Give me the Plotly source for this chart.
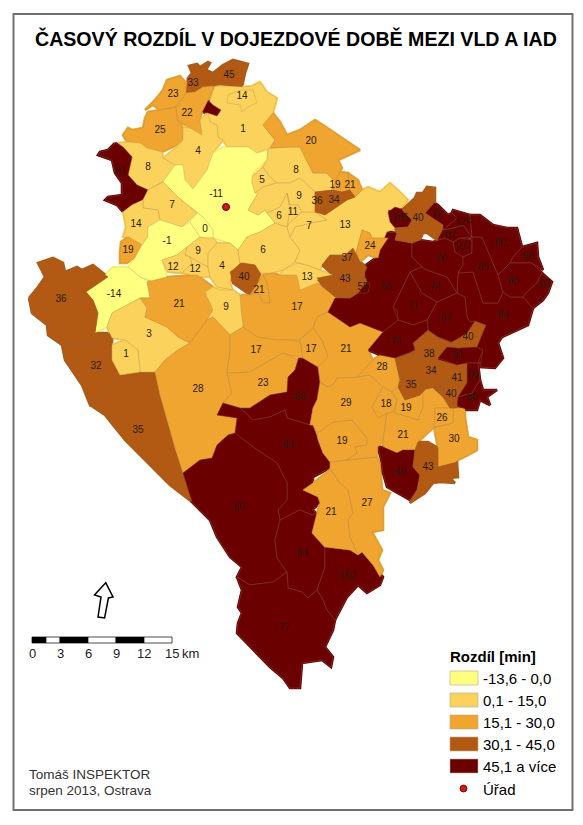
import plotly.graph_objects as go

# map sheet units, y grows downwards
title_text = "ČASOVÝ ROZDÍL V DOJEZDOVÉ DOBĚ MEZI VLD A IAD"
class_limits = [0, 15, 30, 45, 9999]
class_colors = ["#FFFF80", "#FBD35C", "#EFA530", "#B25A14", "#6B0000"]
class_edges = ["#C8BE70", "#C8A050", "#BE8C46", "#96602C", "#85453C"]
class_labels = ["-13,6 - 0,0", "0,1 - 15,0", "15,1 - 30,0", "30,1 - 45,0", "45,1 a více"]
scale_ticks = [0, 3, 6, 9, 12, 15]

region_values = [
    33, 45, 1, 14, 60, 22, 23, 25, 4, 8, 51, -11, 7, 14, 19, -1, 0, 9, 12, 12, 4, 6, 40, 21, 17, 13,
    13, 7, 5, 8, 9, 6, 11, 20, 19, 21, 36, 34, -14, 36, 32, 35, 3, 1, 21, 9, 28, 17, 23, 89, 64, 80,
    64, 150, 77, 21, 27, 19, 29, 18, 19, 21, 30, 26, 49, 43, 21, 17, 28, 38, 40, 34, 35, 41, 40, 91,
    69, 58, 84, 57, 71, 74, 56, 55, 74, 70, 107, 89, 82, 70, 124, 80, 96, 85, 62, 105, 40, 24, 37, 43,
]
label_x = [
    193, 229, 243, 242, None, 187, 173, 160, 198, 148, 120, 216, 172, 136, 128, 167, 205, 198, 173, 195, 222, 263, 244, 259, 297, 307,
    345, 309, 262, 296, 299, 279, 293, 311, 335, 350, 317, 334, 114, 61, 96, 138, 149, 126, 179, 226, 198, 256, 263, 300, 288, 239,
    302, 347, 284, 331, 367, 342, 346, 386, 406, 403, 454, 442, 400, 428, 346, 311, 382, 429, 468, 431, 411, 457, 451, 458,
    473, 472, 503, 446, 413, 396, 386, 363, 435, 441, 462, 483, 450, 437, 463, 500, 528, 513, 545, 400, 418, 370, 347, 345,
]
label_y = [
    83, 75, 129, 96, None, 113, 94, 130, 151, 167, 171, 194, 205, 224, 250, 241, 229, 251, 267, 269, 266, 250, 277, 290, 307, 277,
    225, 226, 180, 170, 196, 216, 212, 141, 185, 185, 201, 200, 294, 299, 366, 430, 334, 354, 304, 307, 389, 350, 383, 397, 445, 507,
    553, 576, 628, 512, 503, 441, 403, 404, 408, 435, 439, 418, 472, 467, 349, 349, 367, 354, 337, 371, 385, 378, 394, 355,
    375, 397, 315, 318, 306, 342, 287, 287, 287, 259, 247, 267, 235, 215, 222, 243, 256, 281, 284, 218, 218, 246, 258, 279,
]
region_rings = [
    [(186,93),(188,78),(192,73),(189,66),(197,64),(200,67),(208,62),(210,63),(206,70),(213,73),(213,86),(203,87),(195,92)],
    [(213,73),(223,65),(233,60),(248,64),(245,73),(242,87),(220,85),(213,86)],
    [(213,90),(217,86),(242,87),(252,86),(260,82),(267,92),(277,98),(273,113),(263,125),(275,140),(270,148),(257,153),(248,147),(227,147),(223,140),(218,137),(217,125),(210,122),(206,113),(208,107)],
    [(227,103),(228,95),(240,90),(253,90),(257,103),(248,107),(242,112),(240,105)],
    [(202,112),(208,100),(213,105),(221,110),(217,116),(208,113)],
    [(176,107),(186,93),(195,92),(203,87),(213,86),(213,90),(208,100),(202,112),(200,120),(202,135),(190,128),(177,120)],
    [(145,110),(155,100),(163,90),(167,80),(180,76),(186,83),(186,93),(176,107),(160,110),(153,105)],
    [(145,118),(148,112),(160,110),(176,107),(177,120),(183,127),(183,140),(177,145),(162,152),(147,148),(140,143),(127,142),(123,135),(128,128),(132,130),(143,128)],
    [(163,158),(177,147),(183,140),(183,127),(190,128),(202,135),(200,120),(208,113),(210,122),(217,125),(218,137),(223,140),(213,153),(207,170),(193,189),(185,180),(183,165),(175,165)],
    [(118,143),(127,142),(140,143),(147,148),(162,152),(163,158),(175,165),(163,182),(160,183),(148,190),(137,185),(128,175),(132,157),(123,147)],
    [(115,143),(123,147),(132,157),(128,175),(137,185),(148,190),(143,200),(132,205),(123,212),(117,205),(105,200),(108,197),(122,195),(122,183),(115,173),(112,160),(98,155),(100,152),(108,150)],
    [(163,182),(175,165),(183,165),(185,180),(193,189),(207,170),(213,153),(223,147),(248,147),(257,153),(268,150),(267,160),(253,173),(252,183),(258,193),(250,207),(248,210),(258,215),(265,210),(275,223),(260,232),(247,237),(238,250),(230,243),(213,238),(213,230),(203,217),(197,212),(178,197)],
    [(148,190),(160,183),(163,182),(178,197),(197,213),(182,227),(160,220),(158,210),(143,208),(143,200)],
    [(123,212),(132,205),(143,200),(143,208),(158,210),(160,220),(148,227),(148,237),(142,245),(128,237),(123,237),(126,227)],
    [(120,253),(121,242),(128,237),(142,245),(135,258),(127,263),(120,263)],
    [(148,227),(160,220),(182,227),(190,222),(200,237),(187,247),(177,255),(162,260),(168,280),(157,283),(140,277),(128,267),(135,258),(142,245),(148,237)],
    [(190,222),(197,213),(203,217),(213,230),(213,238),(205,238),(200,237)],
    [(187,247),(200,237),(205,238),(213,238),(217,243),(208,253),(208,267),(200,263),(190,257),(185,255)],
    [(162,260),(177,255),(187,247),(185,255),(190,257),(192,263),(182,273),(168,272)],
    [(190,257),(200,263),(208,267),(210,277),(200,277),(182,273),(192,263)],
    [(208,253),(217,243),(230,243),(238,250),(240,263),(232,272),(230,283),(233,290),(217,287),(210,277),(208,267)],
    [(238,250),(247,237),(260,232),(275,223),(287,227),(290,237),(300,250),(295,262),(283,270),(272,273),(260,273),(255,265),(243,263),(240,263)],
    [(230,272),(242,263),(255,265),(260,273),(258,283),(250,295),(243,290),(233,283)],
    [(258,283),(263,275),(268,285),(270,303),(263,303),(258,293),(250,295)],
    [(268,285),(263,275),(272,273),(280,275),(297,275),(300,290),(317,283),(337,298),(328,312),(317,317),(313,328),(300,340),(290,340),(277,340),(257,337),(243,327),(241,310),(240,295),(250,295),(258,293),(263,303),(270,303)],
    [(283,270),(297,263),(307,265),(320,270),(333,275),(317,280),(317,283),(300,290),(297,275),(280,275)],
    [(315,212),(325,215),(347,200),(355,197),(362,190),(368,187),(380,192),(390,183),(400,192),(408,200),(400,210),(388,210),(390,218),(397,228),(387,232),(388,238),(372,238),(370,233),(362,230),(356,253),(345,255),(330,255),(322,265),(320,270),(307,265),(297,263),(295,262),(300,250),(290,237),(295,227),(315,222),(327,220)],
    [(290,222),(302,212),(315,212),(327,220),(315,222),(295,227),(290,237),(287,227)],
    [(252,177),(263,167),(270,177),(277,183),(263,187),(255,193),(252,183)],
    [(268,150),(270,148),(290,147),(300,147),(313,173),(327,173),(335,182),(332,190),(315,192),(300,178),(290,183),(277,183),(270,177),(263,167),(267,160)],
    [(255,193),(263,187),(277,183),(290,183),(300,178),(315,192),(315,212),(302,212),(298,205),(290,205),(287,193),(280,207),(267,213),(265,210),(258,215),(248,210),(250,207),(258,193)],
    [(267,213),(280,207),(287,193),(290,210),(287,227),(275,223)],
    [(287,193),(290,205),(298,205),(302,212),(290,222),(287,227),(290,210)],
    [(263,125),(273,113),(280,122),(287,135),(300,130),(315,120),(323,125),(345,140),(360,150),(338,160),(342,168),(340,172),(335,182),(327,173),(313,173),(300,147),(290,147),(270,148),(275,140)],
    [(335,182),(340,172),(348,173),(350,190),(342,192),(332,190)],
    [(348,173),(358,180),(362,190),(355,197),(347,193),(350,190)],
    [(315,192),(332,190),(335,198),(320,213),(315,212)],
    [(332,190),(342,192),(350,190),(355,197),(347,200),(325,215),(320,213),(335,198)],
    [(86,292),(113,267),(128,267),(140,277),(150,282),(150,298),(140,298),(127,305),(112,313),(107,327),(95,333),(98,313),(93,300)],
    [(29,298),(38,287),(45,277),(38,263),(53,258),(63,263),(65,272),(77,267),(82,270),(93,265),(108,277),(86,292),(93,300),(98,313),(95,333),(117,333),(112,340),(100,340),(85,345),(63,345),(48,335),(47,325),(32,313)],
    [(48,335),(63,345),(85,345),(100,340),(112,340),(112,360),(120,375),(115,385),(90,405),(82,385),(65,360),(62,345)],
    [(90,405),(115,385),(120,375),(140,372),(155,372),(160,395),(170,430),(175,448),(183,473),(192,502),(170,485),(125,440),(105,415)],
    [(107,327),(112,313),(127,305),(140,298),(150,298),(147,310),(145,317),(167,327),(178,337),(190,343),(178,350),(165,360),(155,372),(140,372),(138,350),(125,340),(112,338)],
    [(112,345),(125,340),(138,350),(140,372),(120,375),(112,360)],
    [(147,282),(167,277),(197,275),(213,287),(205,292),(213,310),(207,320),(202,327),(190,343),(178,337),(167,327),(145,317),(147,308),(140,298),(150,298)],
    [(205,292),(213,287),(220,290),(233,290),(240,295),(241,310),(243,327),(230,335),(213,317),(207,320),(213,310)],
    [(190,343),(202,327),(207,320),(213,317),(230,335),(230,350),(227,373),(232,393),(223,403),(217,415),(237,418),(235,433),(228,435),(217,445),(212,458),(200,460),(183,473),(175,448),(170,430),(160,395),(155,372),(165,360),(178,350)],
    [(230,335),(243,327),(257,337),(277,340),(290,340),(300,342),(303,358),(283,353),(267,362),(250,372),(233,373),(227,373),(230,350)],
    [(227,373),(233,373),(250,372),(267,362),(283,353),(298,360),(295,370),(288,377),(287,392),(270,395),(250,408),(240,408),(223,403),(232,393)],
    [(298,360),(303,358),(322,368),(320,382),(328,387),(317,400),(313,408),(310,425),(287,418),(285,410),(270,417),(253,420),(240,408),(250,408),(270,395),(287,392),(288,377),(295,370)],
    [(217,415),(223,403),(240,408),(253,420),(270,417),(285,410),(287,418),(310,425),(313,425),(318,440),(323,453),(330,462),(330,468),(313,477),(313,483),(303,490),(318,497),(320,503),(312,510),(317,513),(312,515),(300,510),(290,515),(280,520),(278,510),(287,500),(287,483),(277,463),(253,447),(235,433),(237,418)],
    [(183,473),(200,460),(212,458),(217,445),(228,435),(235,433),(253,447),(277,463),(287,483),(287,500),(278,510),(280,520),(275,540),(277,558),(287,572),(273,582),(250,585),(237,577),(242,567),(230,557),(217,537),(210,520),(200,510),(192,502)],
    [(280,520),(290,515),(300,510),(312,515),(317,513),(312,533),(325,548),(325,567),(317,590),(308,598),(302,592),(288,588),(287,572),(277,558),(275,540)],
    [(325,547),(350,550),(358,555),(362,552),(373,565),(383,577),(380,585),(367,593),(358,585),(347,597),(335,620),(327,610),(322,598),(317,590),(325,567)],
    [(237,577),(250,585),(273,582),(287,572),(288,588),(302,592),(308,598),(317,590),(322,598),(327,610),(335,620),(333,630),(325,647),(333,657),(331,667),(322,660),(302,663),(300,688),(290,688),(283,678),(270,667),(253,650),(237,633),(238,623),(242,613),(238,607),(242,590)],
    [(313,483),(330,470),(333,473),(340,483),(348,490),(353,513),(348,520),(350,537),(358,555),(350,550),(325,547),(312,533),(317,513),(320,503),(318,497),(303,490)],
    [(330,462),(347,460),(377,457),(380,463),(382,490),(390,493),(383,507),(383,530),(372,532),(382,550),(378,560),(383,570),(380,577),(373,565),(362,552),(358,555),(350,537),(348,520),(353,513),(348,490),(340,483),(333,473),(330,468)],
    [(317,433),(333,422),(352,420),(367,438),(367,445),(355,447),(357,453),(347,460),(330,462),(323,453),(318,440)],
    [(320,382),(328,387),(333,385),(337,378),(357,377),(370,375),(383,387),(372,407),(378,418),(387,413),(383,440),(378,447),(377,457),(347,460),(357,453),(355,447),(367,445),(367,438),(352,420),(333,422),(317,433),(313,425),(310,425),(313,408),(317,400)],
    [(372,407),(383,387),(392,392),(397,400),(393,412),(387,413),(378,418)],
    [(392,392),(398,387),(405,400),(420,395),(423,390),(423,407),(418,420),(395,413),(397,400)],
    [(387,413),(393,412),(395,413),(418,420),(423,407),(423,390),(433,388),(443,397),(450,408),(435,408),(434,427),(418,442),(415,450),(403,450),(397,453),(383,447),(383,440)],
    [(453,408),(465,408),(465,417),(468,437),(477,440),(477,450),(468,455),(458,460),(455,463),(438,467),(438,448),(434,427),(437,427),(453,423)],
    [(435,408),(453,408),(453,423),(437,427),(434,427)],
    [(378,447),(383,447),(397,453),(403,450),(415,450),(413,467),(420,475),(417,490),(410,500),(397,493),(387,487),(383,473),(382,463)],
    [(415,450),(418,442),(428,442),(438,448),(438,467),(457,462),(458,477),(450,478),(455,483),(440,482),(433,483),(425,493),(410,503),(417,490),(420,475),(413,467)],
    [(317,317),(328,312),(350,327),(360,323),(383,332),(368,350),(373,360),(357,377),(337,378),(333,385),(328,387),(320,382),(318,367),(328,357),(322,340),(313,328)],
    [(300,340),(313,328),(322,340),(328,357),(318,367),(303,358)],
    [(373,360),(380,355),(395,358),(400,380),(398,387),(392,392),(383,387),(370,375),(357,377)],
    [(413,343),(428,330),(438,337),(452,343),(447,347),(438,358),(438,360),(420,357),(410,353),(415,350)],
    [(452,342),(467,333),(475,321),(486,325),(477,347),(458,348),(447,347)],
    [(395,358),(410,353),(420,357),(438,360),(457,365),(452,380),(437,387),(427,388),(417,380),(400,380)],
    [(400,380),(398,387),(405,400),(420,395),(427,388),(417,380)],
    [(457,365),(467,363),(467,383),(458,397),(447,393),(437,387),(452,380)],
    [(437,387),(447,393),(458,397),(457,408),(450,408),(443,397),(433,388)],
    [(438,358),(447,347),(458,348),(477,347),(483,350),(478,363),(467,363),(457,365)],
    [(467,363),(478,363),(480,380),(472,393),(458,397),(467,383)],
    [(458,397),(472,393),(480,380),(483,390),(497,390),(487,397),(490,405),(480,400),(477,410),(467,410),(457,405)],
    [(458,273),(473,272),(483,303),(498,303),(503,292),(510,297),(523,297),(533,308),(528,325),(502,337),(498,343),(503,358),(495,368),(480,367),(483,350),(477,347),(486,325),(475,321),(470,322),(467,317),(465,297),(457,293)],
    [(437,302),(457,293),(465,297),(467,317),(470,322),(475,321),(467,333),(452,342),(438,337),(428,330),(427,320)],
    [(393,307),(410,272),(422,293),(437,302),(427,320),(413,325),(398,320),(397,310)],
    [(368,350),(383,332),(398,320),(413,325),(427,320),(428,330),(413,343),(415,350),(395,358),(380,355)],
    [(328,312),(335,298),(350,298),(358,293),(367,282),(363,267),(377,257),(387,232),(397,233),(395,240),(412,243),(412,257),(422,267),(410,272),(393,307),(398,320),(383,332),(360,323),(350,327)],
    [(355,287),(360,282),(370,283),(368,293),(358,293)],
    [(422,267),(427,270),(447,277),(457,293),(437,302),(422,293),(410,272)],
    [(412,243),(420,240),(433,242),(445,238),(453,242),(455,252),(463,257),(463,265),(458,273),(457,293),(447,277),(427,270),(422,267),(412,257)],
    [(453,242),(460,238),(472,240),(472,253),(463,257),(455,252)],
    [(472,237),(482,237),(498,275),(503,292),(498,303),(483,303),(473,272),(458,273),(463,265),(463,257),(472,253)],
    [(437,240),(443,230),(453,228),(463,225),(472,237),(460,238),(453,242),(445,238)],
    [(425,213),(433,202),(438,205),(448,215),(452,213),(457,218),(443,230),(443,225),(435,220)],
    [(452,213),(453,210),(463,213),(470,215),(472,237),(463,225),(453,228),(443,230),(457,218)],
    [(470,215),(480,215),(493,225),(507,228),(517,228),(522,247),(513,257),(510,263),(498,275),(482,237),(472,237)],
    [(522,247),(537,243),(538,257),(543,270),(532,263),(510,263),(513,257)],
    [(498,275),(510,263),(532,263),(542,273),(537,283),(527,292),(523,297),(510,297),(503,292)],
    [(537,283),(542,273),(552,282),(548,293),(543,300),(533,308),(523,297),(527,292)],
    [(388,212),(395,207),(405,210),(412,220),(408,227),(395,228),(390,222)],
    [(395,228),(408,227),(412,220),(402,210),(415,198),(417,193),(423,193),(427,187),(435,188),(435,202),(425,213),(435,220),(443,225),(437,240),(427,233),(423,233),(420,240),(412,243),(395,240),(397,233)],
    [(362,230),(370,233),(372,238),(388,238),(380,250),(378,258),(368,255),(360,262),(356,253)],
    [(322,265),(330,255),(345,255),(353,248),(360,262),(367,267),(363,277),(337,277),(333,275)],
    [(317,278),(333,275),(337,277),(363,277),(367,282),(358,293),(350,298),(335,297),(325,288)],
]
office_x = [226]
office_y = [207]


def class_index(value):
    for i, limit in enumerate(class_limits):
        if value <= limit:
            return i
    return len(class_limits) - 1


fig = go.Figure()

# first pass closes the slivers between neighbours, second draws the cells
for width in [2.6, 0.5]:
    for value, ring in zip(region_values, region_rings):
        xs = [p[0] for p in ring] + [ring[0][0]]
        ys = [p[1] for p in ring] + [ring[0][1]]
        c = class_index(value)
        fig.add_trace(go.Scatter(
            x=xs, y=ys, mode="lines", fill="toself",
            fillcolor=class_colors[c],
            line=dict(color=class_colors[c] if width > 1 else class_edges[c], width=width),
            hoverinfo="skip", showlegend=False,
        ))

fig.add_trace(go.Scatter(
    x=label_x, y=label_y, mode="text",
    text=[str(v) for v in region_values],
    textposition="middle center",
    textfont=dict(family="Liberation Sans", size=10, color="#2a1a10"),
    hoverinfo="skip", showlegend=False,
))

fig.add_trace(go.Scatter(
    x=office_x, y=office_y, mode="markers",
    marker=dict(size=7, color="#D01818", line=dict(color="#5a0000", width=1)),
    hoverinfo="skip", showlegend=False,
))

shapes = [dict(type="rect", x0=13.5, y0=14, x1=572.5, y1=810, line=dict(color="#707070", width=2))]
annotations = [dict(
    x=295.5, y=38, text="<b>%s</b>" % title_text, showarrow=False,
    font=dict(family="Liberation Sans", size=19.6, color="black"),
)]

# legend
legend_top = [671, 693, 715, 737, 759]
for top, color, label in zip(legend_top, class_colors, class_labels):
    shapes.append(dict(type="rect", x0=450, x1=478, y0=top, y1=top + 14, fillcolor=color,
                       line=dict(color="#b0a890", width=0.6)))
    annotations.append(dict(x=481, y=top + 7, text=label, showarrow=False, xanchor="left",
                            font=dict(family="Liberation Sans", size=15, color="black")))
annotations.append(dict(x=448, y=656, text="<b>Rozdíl [min]</b>", showarrow=False, xanchor="left",
                        font=dict(family="Liberation Sans", size=15, color="black")))
annotations.append(dict(x=481, y=789, text="Úřad", showarrow=False, xanchor="left",
                        font=dict(family="Liberation Sans", size=15, color="black")))
shapes.append(dict(type="circle", x0=460, x1=467, y0=785, y1=792, fillcolor="#D01818",
                   line=dict(color="#5a0000", width=0.8)))

# scale bar, 15 km = 140 px
km = 140 / 15
bar_x = 32
bar_edges = [0, 1.5, 3, 6, 9, 12, 15]
for i in range(len(bar_edges) - 1):
    shapes.append(dict(type="rect", x0=bar_x + bar_edges[i] * km, x1=bar_x + bar_edges[i + 1] * km,
                       y0=637, y1=643, fillcolor="black" if i % 2 == 0 else "white",
                       line=dict(color="black", width=0.7)))
for tick in scale_ticks:
    annotations.append(dict(x=bar_x + tick * km, y=653, text=str(tick), showarrow=False,
                            font=dict(family="Liberation Sans", size=13, color="#222")))
annotations.append(dict(x=bar_x + 15 * km + 8, y=653, text="km", showarrow=False, xanchor="left",
                        font=dict(family="Liberation Sans", size=13, color="#222")))

# north arrow
shapes.append(dict(type="path",
                   path="M 105.7 582.7 L 113 597 L 108.4 598 L 104.6 618 L 98 617 L 101 597 L 94.5 595 Z",
                   fillcolor="white", line=dict(color="black", width=1.5)))

annotations.append(dict(x=27, y=774, text="Tomáš INSPEKTOR", showarrow=False, xanchor="left",
                        font=dict(family="Liberation Sans", size=13.5, color="#333")))
annotations.append(dict(x=27, y=790, text="srpen 2013, Ostrava", showarrow=False, xanchor="left",
                        font=dict(family="Liberation Sans", size=13.5, color="#333")))

fig.update_layout(
    width=583, height=825,
    margin=dict(l=0, r=0, t=0, b=0),
    paper_bgcolor="white", plot_bgcolor="white",
    xaxis=dict(range=[0, 583], visible=False),
    yaxis=dict(range=[825, 0], visible=False),
    shapes=shapes, annotations=annotations,
)

fig.write_html("out.html", config=dict(displayModeBar=False),
               post_script="document.body.style.margin='0';")
